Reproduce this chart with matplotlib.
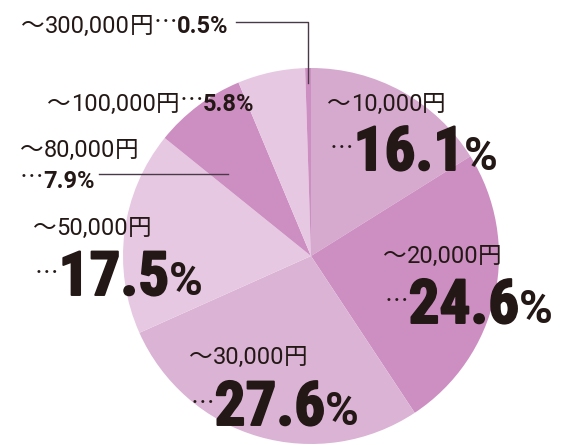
import matplotlib
matplotlib.use("Agg")
import matplotlib.pyplot as plt
import matplotlib.patheffects as pe
import numpy as np

# Monthly amount brackets and their shares (%)
categories = ["～10,000円", "～20,000円", "～30,000円", "～50,000円",
              "～80,000円", "～100,000円", "～300,000円"]
shares = [16.1, 24.6, 27.6, 17.5, 7.9, 5.8, 0.5]
colors = ["#d6a9ce", "#cd8fc2", "#dbb3d5", "#e7c8e2",
          "#cd8fc2", "#e7c8e2", "#cd8fc2"]

W, H = 563, 445
INK = "#231815"
NUM = "Roboto"
COND = "Roboto Condensed"
CJK = "Noto Sans CJK JP"

fig = plt.figure(figsize=(W / 100, H / 100), dpi=100)
ax = fig.add_axes([0, 0, 1, 1])

cx, cy, R = 311, 256, 188
ax.pie(shares, colors=colors, startangle=90, counterclock=False,
       center=(cx, H - cy), radius=R, frame=True,
       wedgeprops=dict(linewidth=0))
ax.set_xlim(0, W)
ax.set_ylim(0, H)
ax.set_aspect("equal")
ax.axis("off")

fig.canvas.draw()
renderer = fig.canvas.get_renderer()

SMALL = 17
SMALL_CJK = 17
BIG = 44
PCT = 33
HEAVY = [pe.withStroke(linewidth=1.4, foreground=INK)]


def run(x, y, pieces):
    """Draw text pieces left to right on one baseline (image coords, y down)."""
    for s, size, weight, fam, dy, fx in pieces:
        t = ax.text(x, H - y + dy, s, fontsize=size, fontweight=weight,
                    family=[fam, "DejaVu Sans"], color=INK,
                    ha="left", va="baseline", path_effects=fx)
        bb = t.get_window_extent(renderer)
        x = bb.x1
    return x


def head(cat):
    return [(cat[0], SMALL_CJK, "normal", CJK, 0, None),
            (cat[1:-1], SMALL, "normal", NUM, 0, None),
            (cat[-1], SMALL_CJK, "normal", CJK, 0, None)]


def pct(v):
    return f"{v:.1f}"


def dots(raise_px):
    return ("…", SMALL_CJK, "normal", CJK, raise_px, None)


def big(v):
    return [dots(15), (pct(v), BIG, "bold", COND, 0, HEAVY),
            ("%", PCT, "bold", NUM, 0, None)]


def small_pct(v):
    return [dots(4), (pct(v) + "%", SMALL, "bold", NUM, 0, None)]


LINE = "#4a3a48"

# ～10,000円 / 16.1%
run(327, 111, head(categories[0]))
run(330, 170, big(shares[0]))

# ～20,000円 / 24.6%
run(383, 263, head(categories[1]))
run(385, 323, big(shares[1]))

# ～30,000円 / 27.6%
run(189, 364, head(categories[2]))
run(191, 425, big(shares[2]))

# ～50,000円 / 17.5%
run(33, 235, head(categories[3]))
run(35, 295, big(shares[3]))

# ～80,000円 / 7.9% with leader line
run(20, 157, head(categories[4]))
end = run(20, 188, small_pct(shares[4]))
ax.plot([end + 4, 228], [H - 174, H - 174], color=LINE, lw=1.0)

# ～100,000円…5.8%
run(47, 111, head(categories[5]) + small_pct(shares[5]))

# ～300,000円…0.5% with leader line down to the thin wedge
end = run(21, 33, head(categories[6]) + small_pct(shares[6]))
mid = np.deg2rad(90 - (100 - shares[6] / 2) * 3.6)
lx = cx + R * np.cos(mid)
ax.plot([end + 8, lx, lx], [H - 22, H - 22, H - 83], color=LINE, lw=1.0)

fig.savefig("out.png", dpi=100)
